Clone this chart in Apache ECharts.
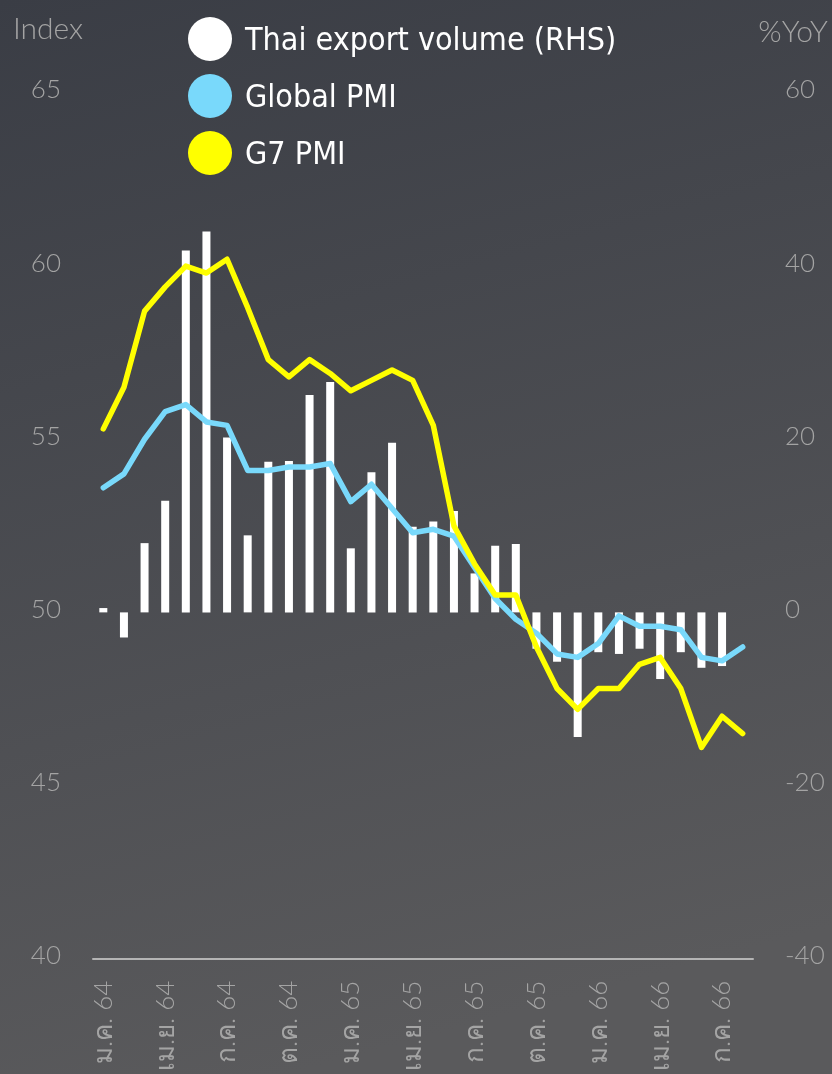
<!DOCTYPE html>
<html>
<head>
<meta charset="utf-8">
<script src="https://cdn.jsdelivr.net/npm/echarts@6/dist/echarts.min.js"></script>
<style>html,body{margin:0;padding:0;}#c{width:832px;height:1074px;}</style>
</head>
<body>
<div id="c"></div>
<script>
var months = ['ม.ค. 64','ก.พ. 64','มี.ค. 64','เม.ย. 64','พ.ค. 64','มิ.ย. 64','ก.ค. 64','ส.ค. 64','ก.ย. 64','ต.ค. 64','พ.ย. 64','ธ.ค. 64',
  'ม.ค. 65','ก.พ. 65','มี.ค. 65','เม.ย. 65','พ.ค. 65','มิ.ย. 65','ก.ค. 65','ส.ค. 65','ก.ย. 65','ต.ค. 65','พ.ย. 65','ธ.ค. 65',
  'ม.ค. 66','ก.พ. 66','มี.ค. 66','เม.ย. 66','พ.ค. 66','มิ.ย. 66','ก.ค. 66','ส.ค. 66'];
var thaiExport = [0.5, -2.9, 8.0, 12.9, 41.8, 44.0, 20.2, 8.9, 17.4, 17.5, 25.1, 26.6, 7.4, 16.2, 19.6, 9.9, 10.5, 11.7, 4.5, 7.7, 7.9, -4.2, -5.7, -14.4, -4.6, -4.8, -4.2, -7.7, -4.6, -6.4, -6.2, null];
var globalPMI = [53.6, 54.0, 55.0, 55.8, 56.0, 55.5, 55.4, 54.1, 54.1, 54.2, 54.2, 54.3, 53.2, 53.7, 53.0, 52.3, 52.4, 52.2, 51.3, 50.4, 49.8, 49.4, 48.8, 48.7, 49.1, 49.9, 49.6, 49.6, 49.5, 48.7, 48.6, 49.0];
var g7PMI = [55.3, 56.5, 58.7, 59.4, 60.0, 59.8, 60.2, 58.8, 57.3, 56.8, 57.3, 56.9, 56.4, 56.7, 57.0, 56.7, 55.4, 52.5, 51.4, 50.5, 50.5, 49.0, 47.8, 47.2, 47.8, 47.8, 48.5, 48.7, 47.8, 46.1, 47.0, 46.5];
var leftTicks = {min: 40, max: 65, interval: 5};
var rightTicks = {min: -40, max: 60, interval: 20};

var axisFont = 'Lato, "Open Sans", sans-serif';
var labelColor = '#a4a4a4';
var tickRich = {t: {color: labelColor, fontSize: 26, fontFamily: axisFont, fontWeight: 300, padding: [0, 0, 6, 0]}};
var chart = echarts.init(document.getElementById('c'));
chart.setOption({
  backgroundColor: new echarts.graphic.LinearGradient(0, 0, 0.35, 1, [
    {offset: 0, color: '#3a3d45'},
    {offset: 1, color: '#5a5a5c'}
  ]),
  animation: false,
  legend: {
    orient: 'vertical', left: 188, top: 17, padding: 0,
    itemWidth: 44, itemHeight: 44, itemGap: 13, icon: 'circle',
    formatter: '{n|{name}}',
    textStyle: {color: '#ffffff', fontSize: 32, fontFamily: '"Liberation Sans Narrow", "DejaVu Sans Condensed", sans-serif',
      rich: {n: {color: '#ffffff', fontSize: 32, fontFamily: '"Liberation Sans Narrow", "DejaVu Sans Condensed", sans-serif', padding: [6, 0, 0, 8]}}},
    data: ['Thai export volume (RHS)', 'Global PMI', 'G7 PMI']
  },
  grid: {left: 93, right: 79, top: 93, bottom: 114},
  xAxis: {
    type: 'category', data: months, boundaryGap: true,
    axisLine: {show: true, onZero: false, lineStyle: {color: '#b4b4b4', width: 2}},
    axisTick: {show: false},
    axisLabel: {interval: 2, rotate: 90, margin: 22, color: labelColor, fontSize: 26, fontFamily: axisFont, fontWeight: 300}
  },
  yAxis: [{
    type: 'value', min: leftTicks.min, max: leftTicks.max, interval: leftTicks.interval,
    name: 'Index', nameLocation: 'end', nameGap: 64,
    nameTextStyle: {color: labelColor, fontSize: 30, fontFamily: axisFont, fontWeight: 300, align: 'center', verticalAlign: 'middle', padding: [0, 90, 0, 0]},
    axisLine: {show: false}, axisTick: {show: false}, splitLine: {show: false},
    axisLabel: {margin: 32, formatter: '{t|{value}}', rich: tickRich}
  }, {
    type: 'value', min: rightTicks.min, max: rightTicks.max, interval: rightTicks.interval,
    name: '%YoY', nameLocation: 'end', nameGap: 61,
    nameTextStyle: {color: labelColor, fontSize: 30, fontFamily: axisFont, fontWeight: 300, align: 'center', verticalAlign: 'middle', padding: [0, 0, 0, 80]},
    axisLine: {show: false}, axisTick: {show: false}, splitLine: {show: false},
    axisLabel: {margin: 32, formatter: '{t|{value}}', rich: tickRich}
  }],
  series: [{
    name: 'Thai export volume (RHS)', type: 'bar', yAxisIndex: 1, data: thaiExport,
    barWidth: 8, itemStyle: {color: '#ffffff'}
  }, {
    name: 'Global PMI', type: 'line', yAxisIndex: 0, data: globalPMI,
    symbol: 'none', lineStyle: {color: '#79d9fb', width: 5.5, cap: 'round', join: 'round'}, itemStyle: {color: '#79d9fb'}
  }, {
    name: 'G7 PMI', type: 'line', yAxisIndex: 0, data: g7PMI,
    symbol: 'none', lineStyle: {color: '#ffff00', width: 5.5, cap: 'round', join: 'round'}, itemStyle: {color: '#ffff00'}
  }]
});
</script>
</body>
</html>
